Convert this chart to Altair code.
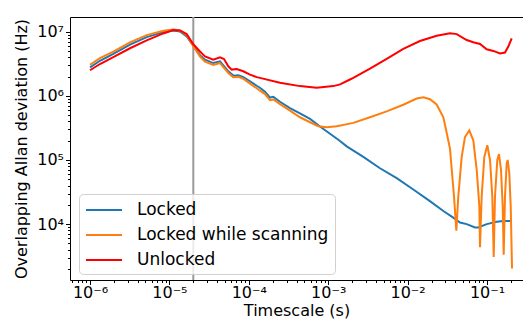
import altair as alt
import pandas as pd

# ---- data (timescale in s, Allan deviation in Hz) ----
locked_x = [1.0e-6, 1.337e-6, 1.966e-6, 3.19e-6, 5.18e-6, 8.38e-6, 1.12e-5, 1.36e-5, 1.65e-5, 2.0e-5,
            2.43e-5, 2.81e-5, 3.57e-5, 4.34e-5, 5.52e-5, 6.38e-5, 7.38e-5, 8.52e-5, 1.035e-4, 1.258e-4,
            1.38e-4, 1.60e-4, 1.85e-4, 2.035e-4, 2.47e-4, 3.30e-4, 4.41e-4, 5.90e-4, 7.88e-4, 1.054e-3,
            1.41e-3, 1.71e-3, 2.77e-3, 4.49e-3, 7.29e-3, 1.18e-2, 1.91e-2, 2.82e-2, 3.76e-2, 4.57e-2,
            5.55e-2, 7.06e-2, 7.77e-2, 9.91e-2, 0.1325, 0.1604, 0.2047]
locked_y = [2.79e6, 3.53e6, 4.52e6, 6.31e6, 8.26e6, 9.86e6, 1.047e7, 1.011e7, 8.47e6, 6.05e6,
            4.32e6, 3.66e6, 3.25e6, 3.46e6, 2.42e6, 2.07e6, 2.10e6, 1.96e6, 1.69e6, 1.44e6,
            1.34e6, 1.165e6, 9.42e5, 9.65e5, 8.09e5, 6.45e5, 5.34e5, 4.37e5, 3.33e5, 2.57e5,
            1.98e5, 1.63e5, 1.12e5, 7.43e4, 5.21e4, 3.46e4, 2.28e4, 1.60e4, 1.26e4, 1.06e4,
            1.0e4, 8.87e3, 8.87e3, 1.0e4, 1.085e4, 1.12e4, 1.12e4]

scanning_x = [1.0e-6, 1.337e-6, 1.966e-6, 3.19e-6, 5.18e-6, 8.38e-6, 1.12e-5, 1.36e-5, 1.65e-5, 2.0e-5,
              2.43e-5, 2.81e-5, 3.57e-5, 4.34e-5, 5.52e-5, 6.38e-5, 7.38e-5, 8.52e-5, 1.035e-4, 1.258e-4,
              1.38e-4, 1.60e-4, 1.85e-4, 2.035e-4, 2.47e-4, 3.30e-4, 4.41e-4, 5.90e-4, 7.50e-4, 9.57e-4,
              1.28e-3, 2.07e-3, 3.36e-3, 5.45e-3, 8.83e-3, 1.30e-2, 1.58e-2, 1.91e-2, 2.32e-2, 2.82e-2,
              3.13e-2, 3.42e-2, 3.84e-2, 4.11e-2, 4.35e-2, 4.80e-2, 5.28e-2, 5.98e-2, 6.72e-2, 7.42e-2,
              8.00e-2, 8.16e-2, 8.57e-2, 9.25e-2, 0.1009, 0.1091, 0.1166, 0.1215, 0.1261, 0.1348,
              0.1416, 0.1501, 0.1576, 0.1623, 0.1685, 0.1770, 0.1822, 0.1909, 0.1989, 0.2065]
scanning_y = [3.06e6, 3.88e6, 4.92e6, 6.85e6, 8.87e6, 1.036e7, 1.085e7, 1.047e7, 8.87e6, 5.94e6,
              4.10e6, 3.43e6, 3.03e6, 3.25e6, 2.28e6, 1.95e6, 1.98e6, 1.85e6, 1.55e6, 1.318e6,
              1.206e6, 1.066e6, 8.56e5, 8.77e5, 7.43e5, 5.88e5, 4.64e5, 3.88e5, 3.37e5, 3.25e5,
              3.37e5, 3.79e5, 4.64e5, 5.73e5, 7.27e5, 9.09e5, 9.52e5, 8.87e5, 7.35e5, 4.64e5,
              2.54e5, 1.49e5, 2.72e4, 7.89e3, 2.72e4, 1.12e5, 2.28e5, 2.89e5, 2.03e5, 7.02e4,
              1.91e4, 4.37e3, 2.72e4, 1.12e5, 1.70e5, 1.0e5, 2.72e4, 3.06e3, 2.72e4, 1.0e5,
              1.24e5, 7.02e4, 1.91e4, 3.33e3, 2.72e4, 8.87e4, 1.0e5, 6.22e4, 1.91e4, 2.03e3]

unlocked_x = [1.0e-6, 1.337e-6, 1.966e-6, 3.19e-6, 5.18e-6, 8.38e-6, 1.12e-5, 1.36e-5, 1.65e-5, 2.0e-5,
              2.43e-5, 2.81e-5, 3.57e-5, 4.34e-5, 4.87e-5, 5.52e-5, 6.09e-5, 7.04e-5, 8.52e-5, 1.035e-4,
              1.258e-4, 1.38e-4, 2.47e-4, 4.41e-4, 7.16e-4, 1.159e-3, 1.41e-3, 1.88e-3, 2.07e-3, 3.36e-3,
              5.45e-3, 8.83e-3, 1.43e-2, 2.32e-2, 3.42e-2, 4.15e-2, 5.55e-2, 6.72e-2, 8.16e-2, 9.91e-2,
              0.1200, 0.1458, 0.1685, 0.1854, 0.2047]
unlocked_y = [2.51e6, 3.14e6, 4.02e6, 5.53e6, 7.35e6, 9.42e6, 1.066e7, 1.047e7, 9.19e6, 6.38e6,
              4.92e6, 4.12e6, 3.66e6, 3.98e6, 3.75e6, 2.89e6, 2.57e6, 2.63e6, 2.42e6, 2.15e6,
              1.96e6, 1.91e6, 1.60e6, 1.42e6, 1.34e6, 1.42e6, 1.51e6, 1.80e6, 1.91e6, 2.66e6,
              3.79e6, 5.40e6, 7.17e6, 8.68e6, 9.52e6, 9.19e6, 7.43e6, 6.85e6, 6.45e6, 5.34e6,
              5.03e6, 4.59e6, 4.75e6, 5.88e6, 7.89e6]

marker_x = [2e-5]

series_names = ["Locked", "Locked while scanning", "Unlocked"]
series_colors = ["#1f77b4", "#ff7f0e", "#ff0000"]

x_domain = [5.6e-7, 0.284]
y_domain = [1343, 1.7e7]

rows = []
for name, xs, ys in zip(series_names, [locked_x, scanning_x, unlocked_x],
                        [locked_y, scanning_y, unlocked_y]):
    for xv, yv in zip(xs, ys):
        rows.append({"tau": xv, "adev": yv, "series": name})
df = pd.DataFrame(rows)
marker_df = pd.DataFrame({"tau": marker_x})


def log_ticks(lo, hi):
    out = []
    for e in range(-9, 9):
        for m in range(1, 10):
            v = m * 10.0 ** e
            if lo <= v <= hi:
                out.append(v)
    return out


x_ticks = log_ticks(*x_domain)
y_ticks = log_ticks(*y_domain)

LOGV = "(log(datum.value)/LN10)"
IS_MAJOR = f"abs({LOGV} - round({LOGV})) < 0.01"
LABEL = (f"{IS_MAJOR} ? '10' + (round({LOGV}) < 0 ? '⁻' : '') + "
         f"substring('⁰¹²³⁴⁵⁶⁷⁸⁹', abs(round({LOGV})), abs(round({LOGV})) + 1) : ''")
TICKSIZE = {"condition": {"test": IS_MAJOR, "value": 4.5}, "value": 2.5}

FONT = "DejaVu Sans"
axis_style = dict(labelFont=FONT, titleFont=FONT, labelFontSize=16, titleFontSize=16,
                  titleFontWeight="normal", labelColor="black", titleColor="black",
                  domainColor="black", tickColor="black", domainWidth=1, tickWidth=1,
                  tickSize=TICKSIZE, labelOverlap=False, labelFlush=False, grid=False,
                  labelExpr=LABEL)

x_scale = alt.Scale(type="log", domain=x_domain, nice=False)

x_enc = alt.X("tau:Q", scale=x_scale,
              axis=alt.Axis(title="Timescale (s)", values=x_ticks, labelPadding=0,
                            titleBaseline="alphabetic", titleY=35, **axis_style))
y_enc = alt.Y("adev:Q",
              scale=alt.Scale(type="log", domain=y_domain, nice=False),
              axis=alt.Axis(title="Overlapping Allan deviation (Hz)", values=y_ticks,
                            labelPadding=2, titlePadding=7, **axis_style))

lines = alt.Chart(df).mark_line(strokeWidth=2, clip=True).encode(
    x=x_enc,
    y=y_enc,
    color=alt.Color("series:N",
                    scale=alt.Scale(domain=series_names, range=series_colors),
                    sort=series_names,
                    legend=alt.Legend(title=None, orient="none", legendX=9, legendY=177,
                                      symbolType="M-2,0H2", symbolSize=324,
                                      symbolStrokeWidth=2, symbolOffset=9,
                                      labelOffset=23, labelFontSize=17, labelFont=FONT,
                                      labelColor="black", labelLimit=0,
                                      padding=6, rowPadding=7,
                                      strokeColor="#d0d0d0", fillColor="rgba(255,255,255,0.8)",
                                      cornerRadius=4)),
    order=alt.Order("tau:Q"),
)

# vertical marker; its (label-less) top axis draws the upper frame line
rule = alt.Chart(marker_df).mark_rule(color="#9a9a9a", strokeWidth=2).encode(
    x=alt.X("tau:Q", scale=x_scale,
            axis=alt.Axis(orient="top", labels=False, ticks=False, title=None, grid=False,
                          domainColor="black", domainWidth=1)),
)

chart = alt.layer(rule, lines).resolve_axis(x="independent").properties(
    width=453, height=263,
    autosize=alt.AutoSizeParams(type="none"),
    padding={"left": 62, "top": 9, "right": 0, "bottom": 39},
    background="white",
).configure_view(
    stroke=None
)

chart.save("out.html", embed_options={"renderer": "svg", "actions": False})
